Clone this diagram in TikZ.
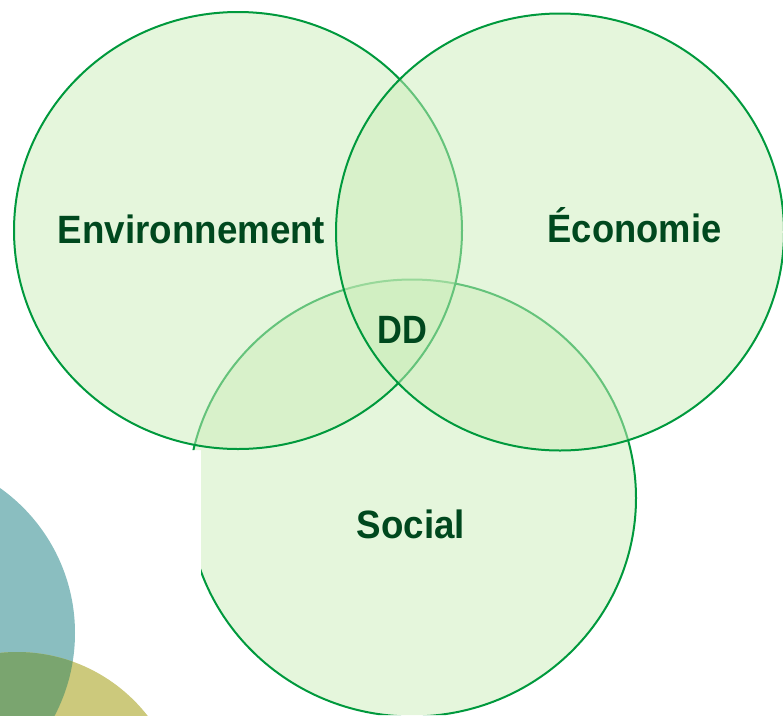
\documentclass[tikz,border=0pt]{standalone}
\usepackage{fontspec}
\setmainfont{Liberation Sans}
\definecolor{ringgreen}{RGB}{0,153,61}
\definecolor{fillgreen}{RGB}{203,237,185}
\definecolor{textgreen}{RGB}{0,72,30}
\definecolor{tealc}{RGB}{138,190,192}
\definecolor{olivec}{RGB}{204,201,124}
\definecolor{mixc}{RGB}{122,165,111}
\begin{document}
\begin{tikzpicture}[x=1pt,y=-1pt,
  venn/.style={draw=ringgreen,line width=2pt,fill=fillgreen,fill opacity=0.5,draw opacity=1},
  lbl/.style={text=textgreen,font=\fontsize{39.5}{42}\selectfont\bfseries,anchor=base,inner sep=0pt}]
\useasboundingbox (0,0) rectangle (783,715);
% decorative circles
\fill[tealc] (-102.7,633) circle[radius=177.7pt];
\fill[olivec] (17,817.6) circle[radius=165.6pt];
\begin{scope}
  \clip (-102.7,633) circle[radius=177.7pt];
  \fill[mixc] (17,817.6) circle[radius=165.6pt];
\end{scope}
% Venn circles
\begin{scope}
  \clip (0,0) -- (783,0) -- (783,715) -- (201,715) -- (201,450) -- (0,450) -- cycle;
  \path[venn] (412,498) ellipse[x radius=224pt,y radius=218.5pt];
\end{scope}
\path[venn] (238,230.5) ellipse[x radius=224pt,y radius=218.5pt];
\path[venn] (560,232) ellipse[x radius=224pt,y radius=218.5pt];
% labels
\node[lbl] (env) at (191.5,243) {\scalebox{0.93}[1]{Environnement}};
\node[lbl] (eco) at (634.5,242) {\scalebox{0.92}[1]{Économie}};
\node[lbl] (soc) at (411,538) {\scalebox{0.93}[1]{Social}};
\node[lbl] (dd) at (402.5,343) {\scalebox{0.87}[1]{DD}};
\end{tikzpicture}
\end{document}
